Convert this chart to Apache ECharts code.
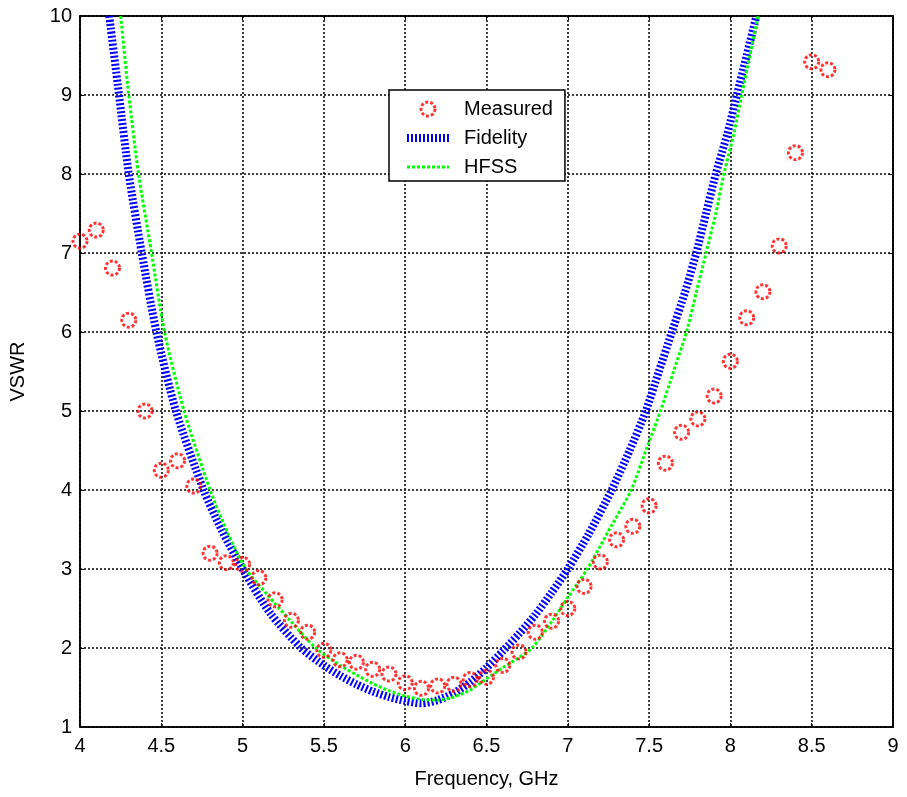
<!DOCTYPE html>
<html>
<head>
<meta charset="utf-8">
<script src="https://cdn.jsdelivr.net/npm/echarts@6/dist/echarts.min.js"></script>
<style>
  html, body { margin: 0; padding: 0; background: #fff; }
  #chart { width: 907px; height: 797px; }
</style>
</head>
<body>
<div id="chart"></div>
<script>
// 读图得到的数据（频率 GHz / VSWR）
const measuredFreq = [4.0, 4.1, 4.2, 4.3, 4.4, 4.5, 4.6, 4.7, 4.8, 4.9,
  5.0, 5.1, 5.2, 5.3, 5.4, 5.5, 5.6, 5.7, 5.8, 5.9,
  6.0, 6.1, 6.2, 6.3, 6.4, 6.5, 6.6, 6.7, 6.8, 6.9,
  7.0, 7.1, 7.2, 7.3, 7.4, 7.5, 7.6, 7.7, 7.8, 7.9,
  8.0, 8.1, 8.2, 8.3, 8.4, 8.5, 8.6];
const measuredVswr = [7.15, 7.29, 6.81, 6.15, 5.0, 4.25, 4.37, 4.05, 3.2, 3.08,
  3.06, 2.89, 2.61, 2.35, 2.2, 1.97, 1.85, 1.82, 1.73, 1.67,
  1.56, 1.49, 1.52, 1.54, 1.6, 1.63, 1.78, 1.95, 2.2, 2.34,
  2.5, 2.78, 3.09, 3.37, 3.54, 3.8, 4.34, 4.73, 4.9, 5.19,
  5.63, 6.18, 6.51, 7.09, 8.27, 9.42, 9.32];

const fidelityFreq = [4.18, 4.24, 4.3, 4.38, 4.47, 4.59, 4.76, 4.87, 5.0, 5.17,
  5.36, 5.5, 5.6, 5.7, 5.8, 5.9, 6.0, 6.1, 6.2, 6.3,
  6.4, 6.5, 6.6, 6.7, 6.8, 6.9, 7.0, 7.13, 7.27, 7.38,
  7.48, 7.56, 7.64, 7.72, 7.79, 7.85, 7.91, 7.98, 8.04, 8.1,
  8.16];
const fidelityVswr = [10, 9, 8, 7, 6, 5, 4, 3.5, 3.0, 2.44,
  2.0, 1.78, 1.65, 1.54, 1.45, 1.38, 1.33, 1.30, 1.34, 1.43,
  1.57, 1.75, 1.96, 2.18, 2.42, 2.7, 3.0, 3.45, 4.0, 4.5,
  5.0, 5.5, 6.0, 6.5, 7.0, 7.5, 8.0, 8.5, 9.0, 9.5,
  10];

const hfssFreq = [4.25, 4.3, 4.36, 4.44, 4.52, 4.64, 4.8, 4.91, 5.02, 5.15,
  5.3, 5.45, 5.6, 5.7, 5.8, 5.9, 6.0, 6.1, 6.2, 6.3,
  6.4, 6.5, 6.6, 6.7, 6.78, 6.9, 7.0, 7.12, 7.25, 7.39,
  7.48, 7.57, 7.65, 7.73, 7.79, 7.85, 7.91, 7.96, 8.02, 8.07,
  8.12, 8.17];
const hfssVswr = [10, 9, 8, 7, 6, 5, 4, 3.45, 3.0, 2.68,
  2.33, 2.0, 1.78, 1.66, 1.55, 1.46, 1.39, 1.35, 1.34, 1.38,
  1.47, 1.61, 1.75, 1.88, 2.0, 2.33, 2.64, 3.0, 3.48, 4.0,
  4.5, 5.0, 5.5, 6.0, 6.5, 7.0, 7.5, 8.0, 8.5, 9.0,
  9.5, 10];

const xTicks = [4, 4.5, 5, 5.5, 6, 6.5, 7, 7.5, 8, 8.5, 9];

const zip = (xs, ys) => xs.map((x, i) => [x, ys[i]]);

const FONT = "'Liberation Sans', Arial, sans-serif";
const BLUE_LINE = { color: "#0000ff", width: 8, type: [2, 2] };
const GREEN_LINE = { color: "#00ff00", width: 3, type: [3, 2] };
const RED_RING = { color: "rgba(255,255,255,0)", borderColor: "#ff0000", borderWidth: 3, borderType: [3, 2] };
const gridLine = { show: true, lineStyle: { color: "#000", width: 1.5, type: [2, 2] } };
const axisLine = { show: true, onZero: false, lineStyle: { color: "#000", width: 1.5 } };
const ticksIn = { show: true, inside: true, length: 4, lineStyle: { color: "#000" } };

const chart = echarts.init(document.getElementById("chart"), null, { renderer: "canvas" });
chart.setOption({
  animation: false,
  backgroundColor: "#fff",
  grid: { left: 78, right: 14, top: 16, bottom: 70, show: true, borderColor: "#000", borderWidth: 1.5 },
  xAxis: [
    {
      type: "value", min: 4, max: 9, interval: 0.5,
      name: "Frequency, GHz", nameLocation: "middle", nameGap: 42,
      nameTextStyle: { fontFamily: FONT, fontSize: 20, color: "#000" },
      axisLine, axisTick: ticksIn, splitLine: gridLine,
      axisLabel: { fontFamily: FONT, fontSize: 20, color: "#000", margin: 9,
        formatter: (v) => (xTicks.includes(v) ? String(v) : "") },
    },
    { type: "value", min: 4, max: 9, interval: 0.5, position: "top",
      axisLine, axisTick: ticksIn, axisLabel: { show: false }, splitLine: { show: false } },
  ],
  yAxis: [
    {
      type: "value", min: 1, max: 10, interval: 1,
      name: "VSWR", nameLocation: "middle", nameGap: 52,
      nameTextStyle: { fontFamily: FONT, fontSize: 20, color: "#000" },
      axisLine, axisTick: ticksIn, splitLine: gridLine,
      axisLabel: { fontFamily: FONT, fontSize: 20, color: "#000", margin: 8 },
    },
    { type: "value", min: 1, max: 10, interval: 1, position: "right",
      axisLine, axisTick: ticksIn, axisLabel: { show: false }, splitLine: { show: false } },
  ],
  legend: {
    orient: "vertical", left: 389, top: 90,
    backgroundColor: "#fff", borderColor: "#000", borderWidth: 1.5,
    padding: [9, 12, 4, 14], itemGap: 9, itemWidth: 42, itemHeight: 14,
    textStyle: { fontFamily: FONT, fontSize: 20, color: "#000", padding: [0, 0, 0, 10] },
    data: [
      { name: "Measured", itemStyle: RED_RING },
      { name: "Fidelity", itemStyle: { opacity: 0 }, lineStyle: BLUE_LINE },
      { name: "HFSS", itemStyle: { opacity: 0 }, lineStyle: GREEN_LINE },
    ],
  },
  series: [
    {
      name: "Fidelity", type: "line", data: zip(fidelityFreq, fidelityVswr),
      smooth: 0.25, showSymbol: false, symbol: "none", z: 2,
      lineStyle: BLUE_LINE, itemStyle: { color: "#0000ff" },
    },
    {
      name: "HFSS", type: "line", data: zip(hfssFreq, hfssVswr),
      smooth: 0.25, showSymbol: false, symbol: "none", z: 3,
      lineStyle: GREEN_LINE, itemStyle: { color: "#00ff00" },
    },
    {
      name: "Measured", type: "scatter", data: zip(measuredFreq, measuredVswr),
      symbol: "circle", symbolSize: 14, z: 4, itemStyle: RED_RING,
    },
  ],
});
</script>
</body>
</html>
